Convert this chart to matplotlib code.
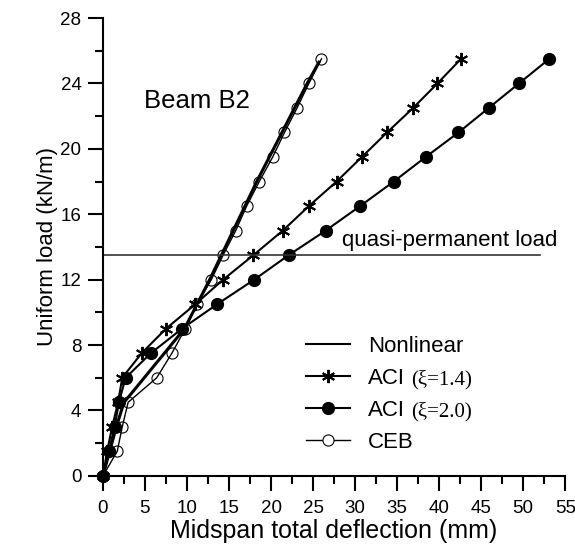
"""Load-deflection curves for beam B2: nonlinear analysis vs ACI and CEB."""

import matplotlib
matplotlib.use('Agg')
from matplotlib import pyplot as plt
from matplotlib.lines import Line2D

# Uniform load levels (kN/m)
load = [0, 1.5, 3, 4.5, 6, 7.5, 9, 10.5, 12, 13.5, 15, 16.5, 18, 19.5,
        21, 22.5, 24, 25.5]

# Midspan deflections (mm)
aci_14 = [0, 0.5, 1.1, 1.8, 2.3, 4.6, 7.5, 11.0, 14.3, 17.9, 21.4, 24.5,
          27.8, 30.8, 33.8, 36.9, 39.8, 42.6]
aci_20 = [0, 0.7, 1.4, 1.9, 2.7, 5.7, 9.4, 13.6, 18.0, 22.1, 26.5, 30.6,
          34.6, 38.4, 42.3, 45.9, 49.5, 53.1]
ceb = [0, 1.7, 2.3, 3.0, 6.4, 8.2, 9.8, 11.2, 12.9, 14.3, 15.8, 17.1,
       18.6, 20.2, 21.6, 23.1, 24.5, 26.0]

nonlin_load = [0, 1.5, 3.0, 4.5, 4.8, 9.0, 10.5, 12.0, 13.5, 15.0, 16.5,
               18.0, 19.5, 21.0, 22.5, 24.0, 25.3]
nonlin_defl = [0, 0.8, 1.6, 2.5, 3.0, 9.7, 11.2, 12.7, 14.1, 15.5, 16.9,
               18.3, 19.8, 21.3, 22.8, 24.3, 25.7]

quasi_perm = 13.5

plt.rcParams['font.family'] = ['Liberation Sans', 'DejaVu Sans']

fig = plt.figure(figsize=(5.75, 5.54), dpi=100)
ax = fig.add_axes([0.179, 0.141, 0.804, 0.8265])

ax.plot(nonlin_defl, nonlin_load, color='black', lw=2.2)
ax.plot(aci_14, load, color='black', lw=1.5, marker=(6, 2, 0),
        markersize=9.5, markeredgewidth=1.4)
ax.plot(aci_20, load, color='black', lw=1.5, marker='o',
        markersize=8.5)
ax.plot(ceb, load, color='black', lw=1.0, marker='o', markersize=8,
        markerfacecolor='none', markeredgewidth=0.8)

ax.plot([0, 52], [quasi_perm, quasi_perm], color='#333333', lw=1.2)
ax.text(28.4, 13.75, 'quasi-permanent load', fontsize=16, va='bottom')
ax.text(4.9, 22.9, 'Beam B2', fontsize=18.5, va='center')

ax.set_xlim(0, 55)
ax.set_ylim(0, 28)
ax.set_xticks(range(0, 56, 5))
ax.set_xticks([x + 2.5 for x in range(0, 55, 5)], minor=True)
ax.set_yticks(range(0, 29, 4))
ax.set_yticks(range(2, 28, 4), minor=True)
for side in ['top', 'right']:
    ax.spines[side].set_visible(False)
for side in ['left', 'bottom']:
    ax.spines[side].set_linewidth(1.5)
ax.tick_params(which='major', length=10.5, width=1.5, labelsize=13.5)
ax.tick_params(which='minor', length=5.5, width=1.5)
ax.tick_params(axis='x', which='major', pad=7)
ax.tick_params(axis='y', which='major', pad=5)
for ln in ax.lines:
    ln.set_clip_on(False)

ax.set_xlabel('Midspan total deflection (mm)', fontsize=18, labelpad=1)
ax.set_ylabel('Uniform load (kN/m)', fontsize=16, labelpad=2)

# Legend
handles = [
    Line2D([], [], color='black', lw=1.5),
    Line2D([], [], color='black', lw=1.5, marker=(6, 2, 0), markersize=9.5,
           markeredgewidth=1.4),
    Line2D([], [], color='black', lw=1.5, marker='o', markersize=8.5),
    Line2D([], [], color='black', lw=1.0, marker='o', markersize=8,
           markerfacecolor='white', markeredgewidth=0.8),
]
labels = ['Nonlinear', 'ACI', 'ACI', 'CEB']
leg = ax.legend(handles, labels, loc='upper left',
                bbox_to_anchor=(0.395, 0.35), frameon=False, fontsize=16,
                handlelength=2.0, handletextpad=0.8, labelspacing=0.5)

# Serif "(xi=...)" parts next to the ACI legend entries
fig.canvas.draw()
for txt, extra in zip(leg.get_texts()[1:3], ['(\u03be=1.4)', '(\u03be=2.0)']):
    bb = txt.get_window_extent()
    baseline = bb.y0 + 0.21 * 16 * fig.dpi / 72
    x, y = fig.transFigure.inverted().transform((bb.x1 + 6, baseline))
    fig.text(x, y, extra, fontsize=15, family='Liberation Serif',
             va='baseline')

fig.savefig('out.png')
